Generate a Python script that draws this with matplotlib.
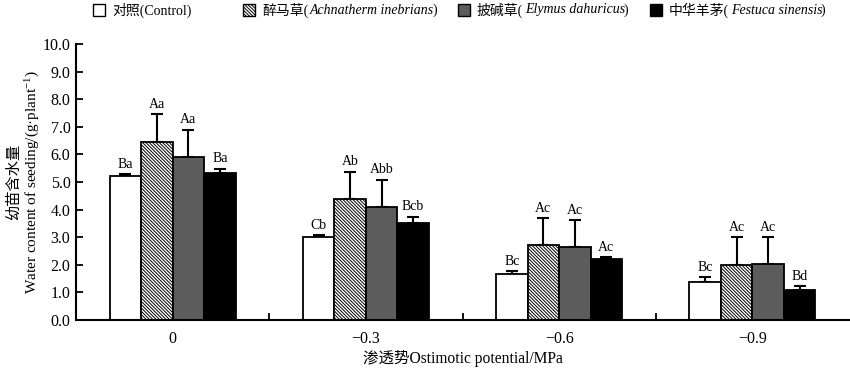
import numpy as np
import matplotlib
matplotlib.use('Agg')
import matplotlib.pyplot as plt
from matplotlib.patches import Rectangle

plt.rcParams['font.family'] = ['Liberation Serif', 'Noto Sans CJK SC']
plt.rcParams['mathtext.fontset'] = 'custom'
plt.rcParams['mathtext.rm'] = 'Liberation Serif'
plt.rcParams['mathtext.it'] = 'Liberation Serif:italic'
plt.rcParams['hatch.linewidth'] = 0.7

# data
potentials = ['0', '\u22120.3', '\u22120.6', '\u22120.9']
species_cn = ['对照', '醉马草', '披碱草', '中华羊茅']
species_latin = ['Control', 'Achnatherm inebrians', 'Elymus dahuricus', 'Festuca sinensis']
control = [5.2, 3.02, 1.67, 1.37]
achnatherm = [6.45, 4.38, 2.7, 2.0]
elymus = [5.9, 4.08, 2.64, 2.03]
festuca = [5.33, 3.5, 2.22, 1.07]
control_err = [0.08, 0.05, 0.1, 0.17]
achnatherm_err = [1.0, 1.0, 1.0, 1.0]
elymus_err = [1.0, 1.0, 0.97, 0.98]
festuca_err = [0.15, 0.25, 0.05, 0.15]
letters = [['Ba', 'Cb', 'Bc', 'Bc'],
           ['Aa', 'Ab', 'Ac', 'Ac'],
           ['Aa', 'Abb', 'Ac', 'Ac'],
           ['Ba', 'Bcb', 'Ac', 'Bd']]

values = [control, achnatherm, elymus, festuca]
errors = [control_err, achnatherm_err, elymus_err, festuca_err]
faces = ['white', 'white', '#5c5c5c', 'black']
hatches = [None, '\\' * 10, None, None]

W, H = 850, 368
fig = plt.figure(figsize=(W / 100, H / 100), dpi=100)
ax = fig.add_axes([76 / W, 1 - 320 / H, 773 / W, 276 / H])

x = np.arange(len(potentials))
w = 0.163
for i in range(4):
    pos = x + (i - 1.5) * w
    ax.bar(pos, values[i], w, color=faces[i], edgecolor='black',
           linewidth=1.3, hatch=hatches[i], zorder=2)
    ax.errorbar(pos, values[i], yerr=[np.zeros(4), errors[i]], fmt='none',
                ecolor='black', elinewidth=1.5, capsize=4, capthick=1.5, zorder=1)
    for p, v, e, t in zip(pos, values[i], errors[i], letters[i]):
        ax.text(p, v + e + 0.12, t, ha='center', va='bottom', fontsize=10)

ax.set_xlim(-0.5, 3.5)
ax.set_ylim(0, 10)
ax.set_yticks(np.arange(0, 10.1, 1.0))
ax.set_yticklabels(['%.1f' % v for v in np.arange(0, 10.1, 1.0)], fontsize=11.5)
ax.set_xticks(x)
ax.set_xticklabels(potentials, fontsize=11.5)
ax.set_xticks([0.5, 1.5, 2.5], minor=True)
ax.tick_params(axis='x', which='major', length=0, pad=8)
ax.tick_params(axis='x', which='minor', direction='in', length=5, width=1.3)
ax.tick_params(axis='y', direction='in', length=5, width=1.3, pad=4)
for s in ['top', 'right']:
    ax.spines[s].set_visible(False)
for s in ['left', 'bottom']:
    ax.spines[s].set_linewidth(1.5)

ax.set_xlabel('渗透势Ostimotic potential/MPa', fontsize=11.2, labelpad=2)
ax.set_ylabel('幼苗含水量\nWater content of seeding/(g·plant$^{-1}$)',
              fontsize=11, linespacing=1.25)
ax.yaxis.set_label_coords(-0.044, 0.5)

# legend drawn by hand so the latin names can be italic next to the CJK names
renderer = fig.canvas.get_renderer()
box_x = [93, 243, 458, 650]
ly = 1 - 10 / H
for i in range(4):
    fig.patches.append(Rectangle((box_x[i] / W, 1 - 16 / H), 12 / W, 12 / H,
                                 transform=fig.transFigure, facecolor=faces[i],
                                 edgecolor='black', linewidth=1.0, hatch=hatches[i]))
    if i == 0:
        parts = [(species_cn[i] + '(' + species_latin[i] + ')', 'normal')]
    else:
        parts = [(species_cn[i] + '(', 'normal'), (species_latin[i], 'italic'), (')', 'normal')]
    px = box_x[i] + 19
    for j, (txt, style) in enumerate(parts):
        t = fig.text(px / W, ly, txt, fontsize=10, style=style, ha='left', va='center')
        px += t.get_window_extent(renderer).width
        if j == 0 and len(parts) > 1:
            px += 1.5
        elif style == 'italic':
            px -= 1.5

fig.savefig('out.png', dpi=100)
